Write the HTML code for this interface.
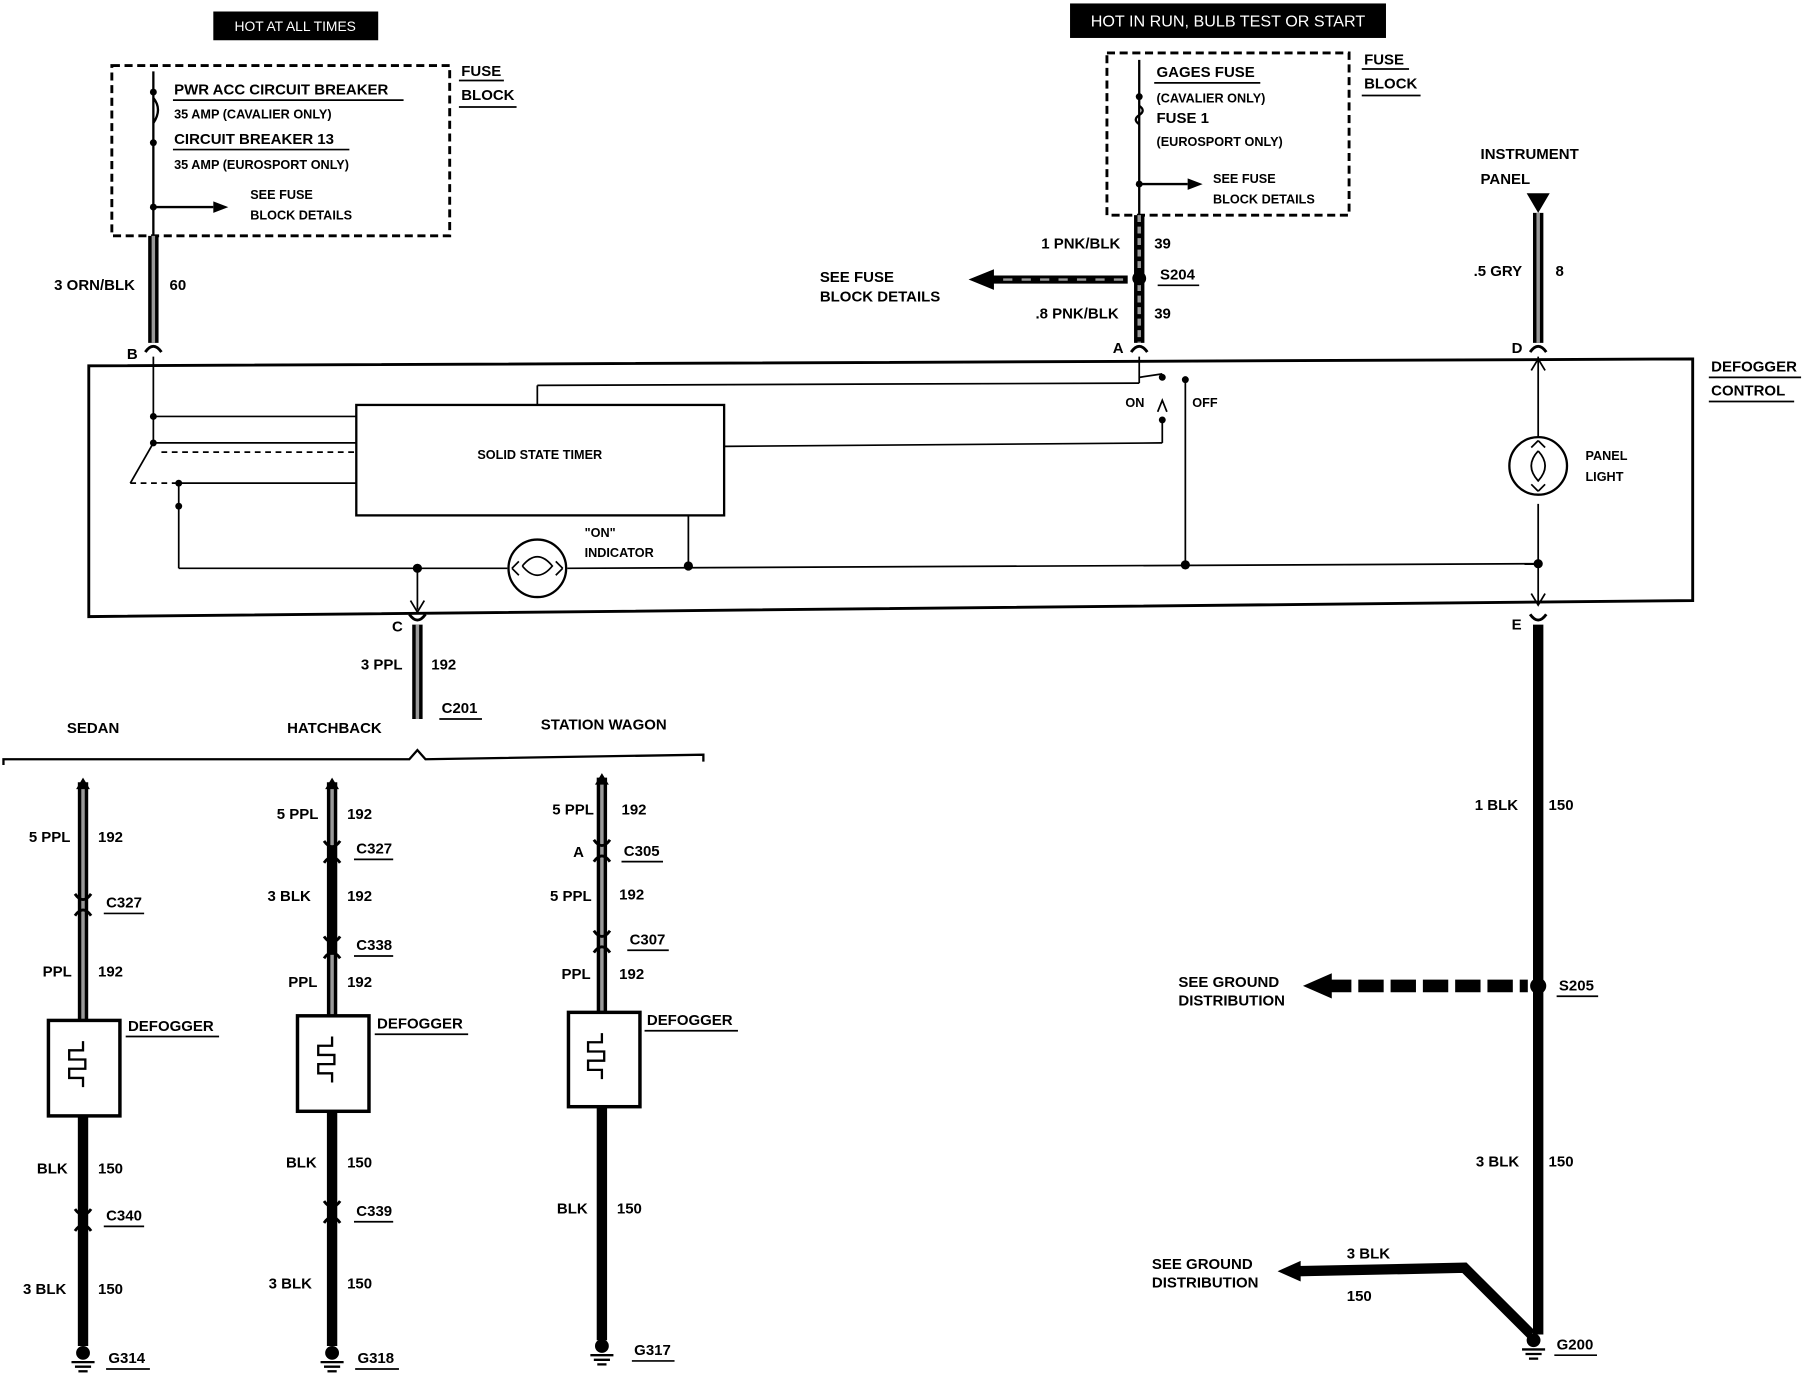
<!DOCTYPE html>
<html><head><meta charset="utf-8"><style>
html,body{margin:0;padding:0;background:#fff;width:1808px;height:1392px;overflow:hidden}
svg{display:block}
text{font-family:"Liberation Sans",Arial,sans-serif;font-weight:bold;font-size:13px;fill:#000}
</style></head><body>
<svg width="1808" height="1392" viewBox="0 0 1568 1210" preserveAspectRatio="none" xmlns="http://www.w3.org/2000/svg">
<defs>
<g id="conn"><path d="M-7,6 Q0,-4 7,6" fill="none" stroke="#000" stroke-width="2.5"/></g>
<g id="connd"><path d="M-7,-6 Q0,4 7,-6" fill="none" stroke="#000" stroke-width="2.5"/></g>
<g id="gnd"><circle cx="0" cy="0" r="6" fill="#000"/><line x1="-10" y1="8" x2="10" y2="8" stroke="#000" stroke-width="2"/><line x1="-7" y1="12" x2="7" y2="12" stroke="#000" stroke-width="2"/><line x1="-4" y1="16" x2="4" y2="16" stroke="#000" stroke-width="2"/></g>
</defs>
<rect width="1568" height="1210" fill="#fff"/>

<!-- header boxes -->
<rect x="185" y="10" width="143" height="25" fill="#000"/>
<text x="256" y="27" text-anchor="middle" style="fill:#fff;font-weight:normal;font-size:12px">HOT AT ALL TIMES</text>
<rect x="928" y="3" width="274" height="30" fill="#000"/>
<text x="1065" y="23" text-anchor="middle" style="fill:#fff;font-weight:normal;font-size:14px">HOT IN RUN, BULB TEST OR START</text>

<!-- left fuse block -->
<rect x="97" y="57" width="293" height="148" fill="none" stroke="#000" stroke-width="2.5" stroke-dasharray="7,4"/>
<text x="400" y="66">FUSE</text><line x1="398" y1="70" x2="437" y2="70" stroke="#000" stroke-width="1.5"/>
<text x="400" y="87">BLOCK</text><line x1="398" y1="93" x2="448" y2="93" stroke="#000" stroke-width="1.5"/>
<line x1="133" y1="62" x2="133" y2="205" stroke="#000" stroke-width="2"/>
<path d="M133,85 q8,10 0,22" fill="none" stroke="#000" stroke-width="2"/>
<circle cx="133" cy="80" r="3" fill="#000"/><circle cx="133" cy="124" r="3" fill="#000"/><circle cx="133" cy="180" r="3" fill="#000"/>
<text x="151" y="82">PWR ACC CIRCUIT BREAKER</text><line x1="150" y1="87" x2="350" y2="87" stroke="#000" stroke-width="1.5"/>
<text x="151" y="103" style="font-size:11px">35 AMP (CAVALIER ONLY)</text>
<text x="151" y="125">CIRCUIT BREAKER 13</text><line x1="150" y1="130" x2="303" y2="130" stroke="#000" stroke-width="1.5"/>
<text x="151" y="147" style="font-size:11px">35 AMP (EUROSPORT ONLY)</text>
<line x1="133" y1="180" x2="185" y2="180" stroke="#000" stroke-width="2"/><path d="M185,175 L198,180 L185,185Z"/>
<text x="217" y="173" style="font-size:11px">SEE FUSE</text><text x="217" y="191" style="font-size:11px">BLOCK DETAILS</text>

<!-- right fuse block -->
<rect x="960" y="46" width="210" height="141" fill="none" stroke="#000" stroke-width="2.5" stroke-dasharray="7,4"/>
<text x="1183" y="56">FUSE</text><line x1="1181" y1="60" x2="1222" y2="60" stroke="#000" stroke-width="1.5"/>
<text x="1183" y="77">BLOCK</text><line x1="1181" y1="83" x2="1232" y2="83" stroke="#000" stroke-width="1.5"/>
<line x1="988" y1="52" x2="988" y2="187" stroke="#000" stroke-width="2"/>
<circle cx="988" cy="84" r="3" fill="#000"/><circle cx="988" cy="160" r="3" fill="#000"/>
<path d="M988,92 q6,4 0,8 q-6,4 0,8" fill="none" stroke="#000" stroke-width="2"/>
<text x="1003" y="67">GAGES FUSE</text><line x1="1001" y1="72" x2="1093" y2="72" stroke="#000" stroke-width="1.5"/>
<text x="1003" y="89" style="font-size:11px">(CAVALIER ONLY)</text>
<text x="1003" y="107">FUSE 1</text>
<text x="1003" y="127" style="font-size:11px">(EUROSPORT ONLY)</text>
<line x1="988" y1="160" x2="1030" y2="160" stroke="#000" stroke-width="2"/><path d="M1030,155 L1043,160 L1030,165Z"/>
<text x="1052" y="159" style="font-size:11px">SEE FUSE</text><text x="1052" y="177" style="font-size:11px">BLOCK DETAILS</text>

<!-- top wires -->
<line x1="133" y1="205" x2="133" y2="298" stroke="#000" stroke-width="9"/><line x1="133" y1="205" x2="133" y2="298" stroke="#999" stroke-width="3"/>
<text x="47" y="252">3 ORN/BLK</text><text x="147" y="252">60</text>
<use href="#conn" x="133" y="300"/><text x="110" y="312">B</text>

<line x1="988" y1="187" x2="988" y2="298" stroke="#000" stroke-width="9"/><line x1="988" y1="187" x2="988" y2="298" stroke="#999" stroke-width="3" stroke-dasharray="6,4"/>
<circle cx="988" cy="242" r="6" fill="#000"/>
<text x="903" y="216">1 PNK/BLK</text><text x="1001" y="216">39</text>
<text x="1006" y="243">S204</text><line x1="1004" y1="248" x2="1040" y2="248" stroke="#000" stroke-width="1.5"/>
<text x="898" y="277">.8 PNK/BLK</text><text x="1001" y="277">39</text>
<line x1="860" y1="243" x2="978" y2="243" stroke="#000" stroke-width="7"/><line x1="870" y1="243" x2="978" y2="243" stroke="#999" stroke-width="2" stroke-dasharray="8,8"/>
<path d="M862,234 L840,243 L862,252Z"/>
<text x="711" y="245">SEE FUSE</text><text x="711" y="262">BLOCK DETAILS</text>
<use href="#conn" x="988" y="300"/><text x="965" y="307">A</text>

<text x="1284" y="138">INSTRUMENT</text><text x="1284" y="160">PANEL</text>
<path d="M1324,168 L1344,168 L1334,185Z"/>
<line x1="1334" y1="185" x2="1334" y2="298" stroke="#000" stroke-width="9"/><line x1="1334" y1="185" x2="1334" y2="298" stroke="#999" stroke-width="3"/>
<text x="1278" y="240">.5 GRY</text><text x="1349" y="240">8</text>
<use href="#conn" x="1334" y="300"/><text x="1311" y="307">D</text>

<!-- defogger control box -->
<path d="M77,318 L1468,312 L1468,522 L77,536Z" fill="none" stroke="#000" stroke-width="2.5"/>
<text x="1484" y="323">DEFOGGER</text><line x1="1482" y1="328" x2="1562" y2="328" stroke="#000" stroke-width="1.5"/>
<text x="1484" y="344">CONTROL</text><line x1="1482" y1="349" x2="1556" y2="349" stroke="#000" stroke-width="1.5"/>

<g stroke="#000" stroke-width="1.5" fill="none">
<rect x="309" y="352" width="319" height="96" stroke-width="2"/>
<line x1="133" y1="310" x2="133" y2="385"/>
<line x1="133" y1="362" x2="309" y2="362"/>
<line x1="133" y1="385" x2="309" y2="385"/>
<line x1="133" y1="385" x2="113" y2="420"/>
<path d="M113,420 L155,420" stroke-dasharray="5,4"/>
<line x1="140" y1="393" x2="309" y2="393" stroke-dasharray="5,4"/>
<line x1="155" y1="420" x2="309" y2="420"/>
<line x1="155" y1="440" x2="155" y2="494"/>
<line x1="155" y1="420" x2="155" y2="440"/>
<line x1="466" y1="352" x2="466" y2="335"/>
<line x1="466" y1="335" x2="988" y2="333"/>
<line x1="988" y1="310" x2="988" y2="333"/>
<line x1="988" y1="328" x2="1008" y2="325"/>
<line x1="628" y1="388" x2="1008" y2="385"/>
<line x1="1008" y1="365" x2="1008" y2="385"/>
<line x1="1028" y1="330" x2="1028" y2="491"/>
<line x1="155" y1="494" x2="440" y2="494"/>
<line x1="492" y1="494" x2="1334" y2="490"/>
<line x1="597" y1="448" x2="597" y2="492"/>
<line x1="362" y1="494" x2="362" y2="530"/>
<line x1="1334" y1="310" x2="1334" y2="380"/>
<line x1="1334" y1="438" x2="1334" y2="525"/>
</g>
<path d="M1004,358 L1008,348 L1012,358" fill="none" stroke="#000" stroke-width="1.5"/>
<circle cx="133" cy="362" r="3"/><circle cx="133" cy="385" r="3"/><circle cx="155" cy="420" r="3"/><circle cx="155" cy="440" r="3"/>
<circle cx="1008" cy="328" r="3"/><circle cx="1008" cy="365" r="3"/><circle cx="1028" cy="330" r="3"/>
<circle cx="362" cy="494" r="4"/><circle cx="597" cy="492" r="4"/><circle cx="1028" cy="491" r="4"/><circle cx="1334" cy="490" r="4"/>
<text x="414" y="399" style="font-size:11px">SOLID STATE TIMER</text>
<text x="976" y="354" style="font-size:11px">ON</text><text x="1034" y="354" style="font-size:11px">OFF</text>
<path d="M356,522 L362,532 L368,522" fill="none" stroke="#000" stroke-width="1.5"/>
<path d="M1328,516 L1334,526 L1340,516" fill="none" stroke="#000" stroke-width="1.5"/>
<path d="M1328,322 L1334,312 L1340,322" fill="none" stroke="#000" stroke-width="1.5"/>
<!-- on indicator -->
<circle cx="466" cy="494" r="25" fill="#fff" stroke="#000" stroke-width="2"/>
<path d="M444,494 l6,-6 M444,494 l6,6 M488,494 l-6,-6 M488,494 l-6,6" stroke="#000" stroke-width="1.5"/>
<path d="M453,492 q13,-16 26,0 q-13,16 -26,0" fill="none" stroke="#000" stroke-width="1.5"/>
<text x="507" y="467" style="font-size:11px">"ON"</text><text x="507" y="484" style="font-size:11px">INDICATOR</text>
<!-- panel light -->
<circle cx="1334" cy="405" r="25" fill="#fff" stroke="#000" stroke-width="2"/>
<path d="M1334,383 l-6,6 M1334,383 l6,6 M1334,427 l-6,-6 M1334,427 l6,-6" stroke="#000" stroke-width="1.5"/>
<path d="M1334,392 q-12,13 0,26 q12,-13 0,-26" fill="none" stroke="#000" stroke-width="1.5"/>
<text x="1375" y="400" style="font-size:11px">PANEL</text><text x="1375" y="418" style="font-size:11px">LIGHT</text>

<!-- C wire -->
<use href="#connd" x="362" y="540"/><text x="340" y="549">C</text>
<line x1="362" y1="543" x2="362" y2="625" stroke="#000" stroke-width="9"/><line x1="362" y1="543" x2="362" y2="625" stroke="#999" stroke-width="3"/>
<text x="313" y="582">3 PPL</text><text x="374" y="582">192</text>
<text x="383" y="620">C201</text><line x1="381" y1="625" x2="418" y2="625" stroke="#000" stroke-width="1.5"/>
<path d="M3,665 L3,660 L355,660 L362,652 L369,660 L610,656 L610,662" fill="none" stroke="#000" stroke-width="2"/>
<text x="58" y="637">SEDAN</text><text x="249" y="637">HATCHBACK</text><text x="469" y="634">STATION WAGON</text>

<!-- Sedan -->
<g>
<line x1="72" y1="680" x2="72" y2="887" stroke="#000" stroke-width="9"/><line x1="72" y1="684" x2="72" y2="887" stroke="#999" stroke-width="3"/>
<path d="M66,686 L72,676 L78,686Z"/>
<use href="#connd" x="72" y="783"/><use href="#conn" x="72" y="790"/>
<text x="25" y="732">5 PPL</text><text x="85" y="732">192</text>
<text x="92" y="789">C327</text><line x1="90" y1="794" x2="125" y2="794" stroke="#000" stroke-width="1.5"/>
<text x="37" y="849">PPL</text><text x="85" y="849">192</text>
<rect x="42" y="887" width="62" height="83" fill="#fff" stroke="#000" stroke-width="3"/>
<path d="M72,905 v8 h-12 v8 h14 v8 h-14 v8 h12 v8" fill="none" stroke="#000" stroke-width="2"/>
<text x="111" y="896">DEFOGGER</text><line x1="109" y1="901" x2="190" y2="901" stroke="#000" stroke-width="1.5"/>
<line x1="72" y1="970" x2="72" y2="1170" stroke="#000" stroke-width="9"/>
<use href="#connd" x="72" y="1057"/><use href="#conn" x="72" y="1064"/>
<text x="32" y="1020">BLK</text><text x="85" y="1020">150</text>
<text x="92" y="1061">C340</text><line x1="90" y1="1066" x2="125" y2="1066" stroke="#000" stroke-width="1.5"/>
<text x="20" y="1125">3 BLK</text><text x="85" y="1125">150</text>
<use href="#gnd" x="72" y="1176"/>
<text x="94" y="1185">G314</text><line x1="92" y1="1190" x2="130" y2="1190" stroke="#000" stroke-width="1.5"/>
</g>
<!-- Hatchback -->
<g>
<line x1="288" y1="680" x2="288" y2="883" stroke="#000" stroke-width="9"/><line x1="288" y1="684" x2="288" y2="735" stroke="#999" stroke-width="3"/><line x1="288" y1="830" x2="288" y2="883" stroke="#999" stroke-width="3"/>
<path d="M282,686 L288,676 L294,686Z"/>
<use href="#connd" x="288" y="737"/><use href="#conn" x="288" y="744"/>
<use href="#connd" x="288" y="820"/><use href="#conn" x="288" y="827"/>
<text x="240" y="712">5 PPL</text><text x="301" y="712">192</text>
<text x="309" y="742">C327</text><line x1="307" y1="747" x2="341" y2="747" stroke="#000" stroke-width="1.5"/>
<text x="232" y="783">3 BLK</text><text x="301" y="783">192</text>
<text x="309" y="826">C338</text><line x1="307" y1="831" x2="341" y2="831" stroke="#000" stroke-width="1.5"/>
<text x="250" y="858">PPL</text><text x="301" y="858">192</text>
<rect x="258" y="883" width="62" height="83" fill="#fff" stroke="#000" stroke-width="3"/>
<path d="M288,901 v8 h-12 v8 h14 v8 h-14 v8 h12 v8" fill="none" stroke="#000" stroke-width="2"/>
<text x="327" y="894">DEFOGGER</text><line x1="325" y1="899" x2="406" y2="899" stroke="#000" stroke-width="1.5"/>
<line x1="288" y1="966" x2="288" y2="1170" stroke="#000" stroke-width="9"/>
<use href="#connd" x="288" y="1050"/><use href="#conn" x="288" y="1057"/>
<text x="248" y="1015">BLK</text><text x="301" y="1015">150</text>
<text x="309" y="1057">C339</text><line x1="307" y1="1062" x2="341" y2="1062" stroke="#000" stroke-width="1.5"/>
<text x="233" y="1120">3 BLK</text><text x="301" y="1120">150</text>
<use href="#gnd" x="288" y="1176"/>
<text x="310" y="1185">G318</text><line x1="308" y1="1190" x2="346" y2="1190" stroke="#000" stroke-width="1.5"/>
</g>
<!-- Wagon -->
<g>
<line x1="522" y1="676" x2="522" y2="880" stroke="#000" stroke-width="9"/><line x1="522" y1="680" x2="522" y2="880" stroke="#999" stroke-width="3"/>
<path d="M516,682 L522,672 L528,682Z"/>
<use href="#connd" x="522" y="736"/><use href="#conn" x="522" y="743"/>
<use href="#connd" x="522" y="815"/><use href="#conn" x="522" y="822"/>
<text x="479" y="708">5 PPL</text><text x="539" y="708">192</text>
<text x="497" y="745">A</text>
<text x="541" y="744">C305</text><line x1="539" y1="749" x2="575" y2="749" stroke="#000" stroke-width="1.5"/>
<text x="477" y="783">5 PPL</text><text x="537" y="782">192</text>
<text x="546" y="821">C307</text><line x1="544" y1="826" x2="580" y2="826" stroke="#000" stroke-width="1.5"/>
<text x="487" y="851">PPL</text><text x="537" y="851">192</text>
<rect x="493" y="880" width="62" height="82" fill="#fff" stroke="#000" stroke-width="3"/>
<path d="M522,898 v8 h-12 v8 h14 v8 h-14 v8 h12 v8" fill="none" stroke="#000" stroke-width="2"/>
<text x="561" y="891">DEFOGGER</text><line x1="559" y1="896" x2="640" y2="896" stroke="#000" stroke-width="1.5"/>
<line x1="522" y1="962" x2="522" y2="1165" stroke="#000" stroke-width="9"/>
<text x="483" y="1055">BLK</text><text x="535" y="1055">150</text>
<use href="#gnd" x="522" y="1170"/>
<text x="550" y="1178">G317</text><line x1="548" y1="1183" x2="585" y2="1183" stroke="#000" stroke-width="1.5"/>
</g>

<!-- E wire -->
<use href="#connd" x="1334" y="540"/><text x="1311" y="547">E</text>
<line x1="1334" y1="543" x2="1334" y2="1160" stroke="#000" stroke-width="9"/>
<text x="1279" y="704">1 BLK</text><text x="1343" y="704">150</text>
<circle cx="1334" cy="857" r="7" fill="#000"/>
<line x1="1150" y1="857" x2="1325" y2="857" stroke="#000" stroke-width="11" stroke-dasharray="22,6"/>
<path d="M1155,846 L1130,857 L1155,868Z"/>
<text x="1022" y="858">SEE GROUND</text><text x="1022" y="874">DISTRIBUTION</text>
<text x="1352" y="861">S205</text><line x1="1350" y1="866" x2="1386" y2="866" stroke="#000" stroke-width="1.5"/>
<text x="1280" y="1014">3 BLK</text><text x="1343" y="1014">150</text>
<path d="M1125,1105 L1270,1102 L1328,1160" fill="none" stroke="#000" stroke-width="9"/>
<path d="M1128,1096 L1108,1105 L1128,1114Z"/>
<text x="999" y="1103">SEE GROUND</text><text x="999" y="1119">DISTRIBUTION</text>
<text x="1168" y="1094">3 BLK</text><text x="1168" y="1131">150</text>
<use href="#gnd" x="1330" y="1165"/>
<text x="1350" y="1173">G200</text><line x1="1348" y1="1178" x2="1385" y2="1178" stroke="#000" stroke-width="1.5"/>
</svg>
</body></html>
